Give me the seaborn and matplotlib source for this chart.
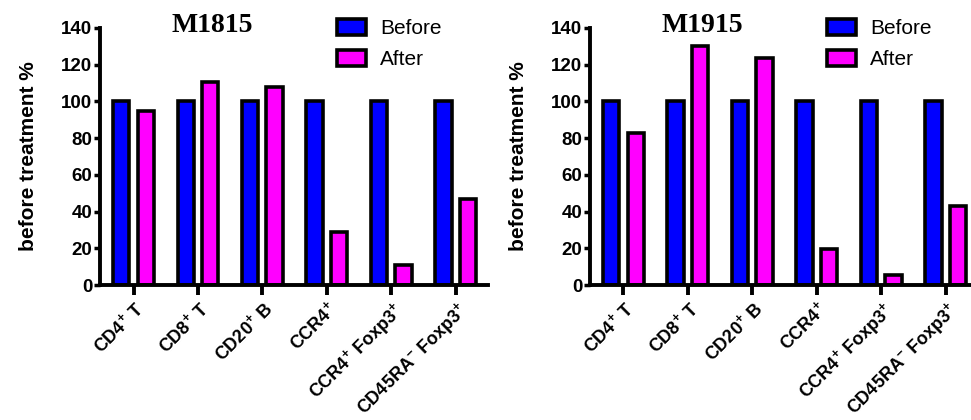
import numpy as np
import pandas as pd
import matplotlib
matplotlib.use("Agg")
import matplotlib.pyplot as plt
import seaborn as sns

categories = ["CD4$^{+}$ T", "CD8$^{+}$ T", "CD20$^{+}$ B", "CCR4$^{+}$",
              "CCR4$^{+}$ Foxp3$^{+}$", "CD45RA$^{-}$ Foxp3$^{+}$"]
series = ["Before", "After"]
m1815_before = [100, 100, 100, 100, 100, 100]
m1815_after = [95, 110.5, 108, 29, 11, 47]
m1915_before = [100, 100, 100, 100, 100, 100]
m1915_after = [83, 130, 123.5, 19.5, 5.5, 43]
titles = ["M1815", "M1915"]
yticks = [0, 20, 40, 60, 80, 100, 120, 140]

sns.set_style("ticks")
plt.rcParams["font.family"] = ["Liberation Sans", "DejaVu Sans"]
plt.rcParams["font.weight"] = "bold"
plt.rcParams["text.color"] = "black"
plt.rcParams["axes.labelcolor"] = "black"
plt.rcParams["xtick.color"] = "black"
plt.rcParams["ytick.color"] = "black"
plt.rcParams["axes.edgecolor"] = "black"
plt.rcParams["mathtext.fontset"] = "custom"
plt.rcParams["mathtext.rm"] = "Liberation Sans:bold"
plt.rcParams["mathtext.it"] = "Liberation Sans:bold"
plt.rcParams["mathtext.bf"] = "Liberation Sans:bold"
plt.rcParams["mathtext.default"] = "rm"

fig = plt.figure(figsize=(9.71, 4.2), dpi=100)
ax1 = fig.add_axes([0.103, 0.3214, 0.3996, 0.612])
ax2 = fig.add_axes([0.6076, 0.3214, 0.3996, 0.612])

palette = {"Before": "#0000FF", "After": "#FF00FF"}

for ax, before, after, title in [(ax1, m1815_before, m1815_after, titles[0]),
                                 (ax2, m1915_before, m1915_after, titles[1])]:
    df = pd.DataFrame({
        "cell": categories * 2,
        "value": before + after,
        "time": [series[0]] * len(categories) + [series[1]] * len(categories),
    })
    sns.barplot(data=df, x="cell", y="value", hue="time", hue_order=series,
                order=categories, palette=palette, saturation=1, width=0.76,
                gap=0.33, edgecolor="black", linewidth=2.6, ax=ax, legend=True)
    ax.set_xlim(-0.52, 5.5)
    ax.set_ylim(0, 140)
    ax.set_yticks(yticks)
    ax.set_yticklabels([str(v) for v in yticks], fontsize=13.5, fontweight="bold")
    ax.set_xticks(range(len(categories)))
    ax.set_xticklabels(categories, rotation=45, ha="right", rotation_mode="anchor",
                       fontsize=13, fontweight="bold")
    ax.set_xlabel("")
    ax.set_ylabel("before treatment %", fontsize=15, fontweight="bold")
    ax.yaxis.set_label_coords(-0.16, 0.5)
    for s in ["top", "right"]:
        ax.spines[s].set_visible(False)
    for s in ["left", "bottom"]:
        ax.spines[s].set_linewidth(2.8)
    ax.tick_params(axis="y", width=2.5, length=4, pad=1.5)
    ax.tick_params(axis="x", width=2.8, length=7, pad=3)
    handles, labels = ax.get_legend_handles_labels()
    ax.legend(handles, labels, loc="upper left", bbox_to_anchor=(0.61, 1.035),
              frameon=False, prop={"size": 15, "weight": "normal"},
              handlelength=1.4, handleheight=0.8, labelspacing=0.58,
              handletextpad=0.7, borderpad=0, borderaxespad=0)
    ax.text(0.29, 0.985, title, transform=ax.transAxes, ha="center", va="baseline",
            family="Liberation Serif", fontweight="bold", fontsize=20)

fig.savefig("out.png", dpi=100)
